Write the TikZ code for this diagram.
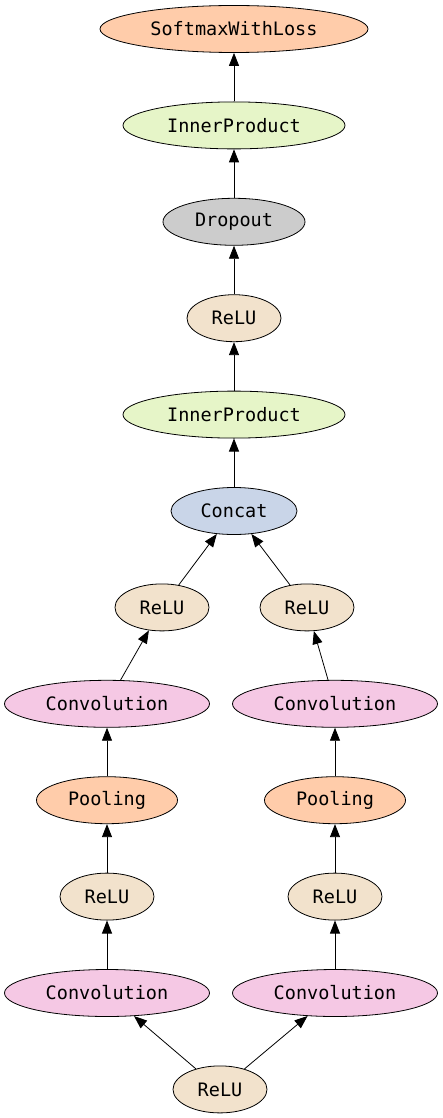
\documentclass[tikz,border=0pt]{standalone}
\usepackage{fontspec}
\newfontfamily\layerfont{DejaVu Sans Mono}
\usetikzlibrary{shapes.geometric,arrows.meta}
\definecolor{losscol}{HTML}{FFCCAA}
\definecolor{ipcol}{HTML}{E6F5C8}
\definecolor{dropcol}{HTML}{CCCCCC}
\definecolor{relucol}{HTML}{F2E2CC}
\definecolor{concatcol}{HTML}{C9D5E8}
\definecolor{convcol}{HTML}{F5C8E4}
\tikzset{
	layer/.style = {ellipse, draw, line width = .8pt, inner sep = 0pt, minimum height = 47pt, font = \layerfont\fontsize{18.5}{20}\selectfont},
	edge/.style = {-{Triangle[length = 13pt, width = 10pt]}, line width = .8pt},
}
\begin{document}
\begin{tikzpicture}[x = 1pt, y = -1pt]
	\useasboundingbox (0,0) rectangle (443,1118);
	\node[layer, fill = losscol, minimum width = 268pt] (loss) at (234,29) {SoftmaxWithLoss};
	\node[layer, fill = ipcol, minimum width = 222pt] (ip2) at (234,125.4) {InnerProduct};
	\node[layer, fill = dropcol, minimum width = 142pt] (drop) at (234,221.8) {Dropout};
	\node[layer, fill = relucol, minimum width = 94pt] (relu6) at (234,318.2) {ReLU};
	\node[layer, fill = ipcol, minimum width = 222pt] (ip1) at (234,414.6) {InnerProduct};
	\node[layer, fill = concatcol, minimum width = 126pt] (concat) at (234,511) {Concat};
	% left branch
	\node[layer, fill = relucol, minimum width = 94pt] (reluL2) at (162,607.4) {ReLU};
	\node[layer, fill = convcol, minimum width = 205pt] (convL2) at (107,703.8) {Convolution};
	\node[layer, fill = losscol, minimum width = 141pt] (poolL) at (107,800.2) {Pooling};
	\node[layer, fill = relucol, minimum width = 94pt] (reluL1) at (107,896.6) {ReLU};
	\node[layer, fill = convcol, minimum width = 205pt] (convL1) at (107,993) {Convolution};
	% right branch
	\node[layer, fill = relucol, minimum width = 94pt] (reluR2) at (307,607.4) {ReLU};
	\node[layer, fill = convcol, minimum width = 205pt] (convR2) at (335,703.8) {Convolution};
	\node[layer, fill = losscol, minimum width = 141pt] (poolR) at (335,800.2) {Pooling};
	\node[layer, fill = relucol, minimum width = 94pt] (reluR1) at (335,896.6) {ReLU};
	\node[layer, fill = convcol, minimum width = 205pt] (convR1) at (335,993) {Convolution};
	\node[layer, fill = relucol, minimum width = 94pt] (relu0) at (220,1089.4) {ReLU};
	% edges
	\draw[edge] (relu0) -- (convL1);
	\draw[edge] (relu0) -- (convR1);
	\draw[edge] (convL1) -- (reluL1);
	\draw[edge] (reluL1) -- (poolL);
	\draw[edge] (poolL) -- (convL2);
	\draw[edge] (convL2) -- (reluL2);
	\draw[edge] (convR1) -- (reluR1);
	\draw[edge] (reluR1) -- (poolR);
	\draw[edge] (poolR) -- (convR2);
	\draw[edge] (convR2) -- (reluR2);
	\draw[edge] (reluL2) -- (concat);
	\draw[edge] (reluR2) -- (concat);
	\draw[edge] (concat) -- (ip1);
	\draw[edge] (ip1) -- (relu6);
	\draw[edge] (relu6) -- (drop);
	\draw[edge] (drop) -- (ip2);
	\draw[edge] (ip2) -- (loss);
\end{tikzpicture}
\end{document}
